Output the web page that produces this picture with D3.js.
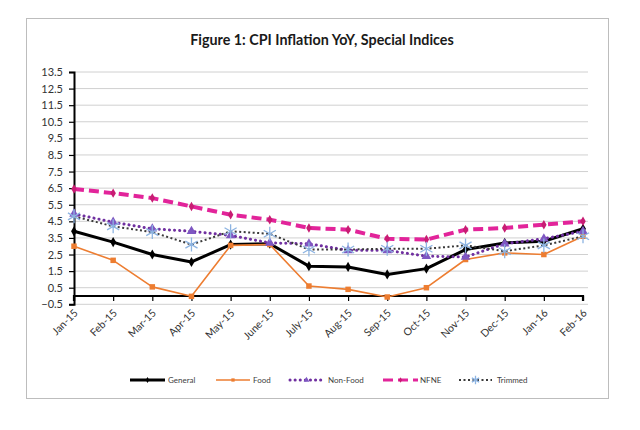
<!DOCTYPE html>
<html><head><meta charset="utf-8">
<script src="https://cdn.jsdelivr.net/npm/d3@7"></script>
<style>body{margin:0;background:#fff;} svg{display:block;}</style>
</head><body>
<svg id="c" width="640" height="430"></svg>
<script>
const categories = ["Jan-15","Feb-15","Mar-15","Apr-15","May-15","June-15","July-15","Aug-15","Sep-15","Oct-15","Nov-15","Dec-15","Jan-16","Feb-16"];
const general  = [3.9, 3.25, 2.5, 2.05, 3.1, 3.15, 1.8, 1.75, 1.3, 1.65, 2.8, 3.2, 3.3, 4.05];
const food     = [3.0, 2.15, 0.55, -0.02, 3.05, 3.1, 0.6, 0.4, -0.06, 0.5, 2.2, 2.6, 2.5, 3.6];
const nonFood  = [4.95, 4.45, 4.05, 3.9, 3.65, 3.2, 3.15, 2.75, 2.75, 2.4, 2.35, 3.15, 3.45, 3.9];
const nfne     = [6.45, 6.2, 5.9, 5.4, 4.9, 4.6, 4.1, 4.0, 3.45, 3.4, 4.0, 4.1, 4.3, 4.5];
const trimmed  = [4.8, 4.2, 3.85, 3.1, 3.9, 3.75, 2.8, 2.8, 2.85, 2.85, 3.05, 2.7, 3.05, 3.6];
const yTickValues = [-0.5,0.5,1.5,2.5,3.5,4.5,5.5,6.5,7.5,8.5,9.5,10.5,11.5,12.5,13.5];
const title = "Figure 1: CPI Inflation YoY, Special Indices";
const seriesNames = ["General","Food","Non-Food","NFNE","Trimmed"];

const svg = d3.select("#c");
const font = "Lato, 'Open Sans', sans-serif";

// outer frame
svg.append("rect").attr("x",26.5).attr("y",18.5).attr("width",582).attr("height",380)
  .attr("fill","#fff").attr("stroke","#bdbdbd").attr("stroke-width",1);

svg.append("text").attr("x",322).attr("y",45).attr("text-anchor","middle")
  .attr("font-family",font).attr("font-weight","bold").attr("font-size",14.3)
  .attr("fill","#1a1a1a").text(title);

const x = d3.scalePoint().domain(categories).range([74, 583]);
const y = d3.scaleLinear().domain([-0.5, 13.5]).range([304.3, 72]);

// gridlines
svg.append("g").selectAll("line").data(yTickValues).join("line")
  .attr("x1",74).attr("x2",588).attr("y1",d=>y(d)).attr("y2",d=>y(d))
  .attr("stroke","#d0d0d0").attr("stroke-width",1);

// y axis
const ya = svg.append("g").attr("transform","translate(74,0)")
  .call(d3.axisLeft(y).tickValues(yTickValues).tickSize(5).tickPadding(6).tickFormat(d3.format(".1f")));
ya.select(".domain").attr("stroke","#000").attr("stroke-width",2);
ya.selectAll(".tick line").attr("stroke","#000").attr("stroke-width",1.2);
ya.selectAll("text").attr("font-family",font).attr("font-size",11).attr("fill","#333");

// x axis at zero
const xa = svg.append("g").attr("transform",`translate(0,${y(0)})`)
  .call(d3.axisBottom(x).tickSize(5).tickFormat(""));
xa.select(".domain").attr("stroke","#000").attr("stroke-width",2.2).attr("d",`M74,5V0H583V5`);
xa.selectAll(".tick line").attr("stroke","#000").attr("stroke-width",1.2);

// x labels
svg.append("g").selectAll("text").data(categories).join("text")
  .attr("transform",d=>`translate(${x(d)+2},${311}) rotate(-45)`)
  .attr("text-anchor","end").attr("dy","0.35em")
  .attr("font-family",font).attr("font-size",10.5).attr("fill","#333").text(d=>d);

const line = d3.line().x((d,i)=>x(categories[i])).y(d=>y(d));

function asterisk(r){
  let p="";
  for(let k=0;k<3;k++){const a=Math.PI/2+k*Math.PI/3;const dx=r*Math.cos(a),dy=r*Math.sin(a);
    p+=`M${-dx},${-dy}L${dx},${dy}`;}
  return p;
}

const series = [
  {name:"General", data:general, color:"#000", width:3, dash:null, cap:"butt",
   marker:{type:d3.symbolDiamond,size:30,fill:"#000"}},
  {name:"Food", data:food, color:"#ED7D31", width:1.6, dash:null, cap:"butt",
   marker:{type:d3.symbolSquare,size:30,fill:"#ED7D31"}},
  {name:"Non-Food", data:nonFood, color:"#7030A0", width:3, dash:"0.1 5", cap:"round",
   marker:{type:d3.symbolTriangle,size:40,fill:"#7E57C2"}},
  {name:"NFNE", data:nfne, color:"#E2249A", width:4, dash:"10 5", cap:"butt",
   marker:{type:d3.symbolDiamond,size:26,fill:"#C81D73"}},
  {name:"Trimmed", data:trimmed, color:"#3a3a3a", width:2, dash:"2 2.5", cap:"butt",
   marker:{ast:true,stroke:"#8DB4E2"}}
];

function drawMarker(g, s, cx, cy, scale=1){
  const m = s.marker;
  if(m.ast){
    g.append("path").attr("transform",`translate(${cx},${cy})`).attr("d",asterisk(7*scale))
      .attr("stroke",m.stroke).attr("stroke-width",1.3).attr("fill","none");
  } else {
    g.append("path").attr("transform",`translate(${cx},${cy})`)
      .attr("d",d3.symbol().type(m.type).size(m.size*scale*scale)()).attr("fill",m.fill);
  }
}

series.forEach(s=>{
  const g = svg.append("g");
  g.append("path").attr("d",line(s.data)).attr("fill","none").attr("stroke",s.color)
    .attr("stroke-width",s.width).attr("stroke-dasharray",s.dash).attr("stroke-linecap",s.cap)
    .attr("stroke-linejoin","round");
  s.data.forEach((v,i)=>drawMarker(g,s,x(categories[i]),y(v)));
});

// legend
const legendPos = [[130,165,168],[216,250,253],[290,323,328],[383,418,420],[459,492,497]];
series.forEach((s,i)=>{
  const [a,b,t] = legendPos[i];
  const g = svg.append("g");
  const ly = 380;
  g.append("line").attr("x1",a).attr("x2",b).attr("y1",ly).attr("y2",ly)
    .attr("stroke",s.color).attr("stroke-width",Math.min(s.width,3)).attr("stroke-dasharray",s.dash)
    .attr("stroke-linecap",s.cap);
  drawMarker(g,s,(a+b)/2,ly,0.6);
  g.append("text").attr("x",t).attr("y",ly).attr("dy","0.35em").attr("font-family",font)
    .attr("font-size",8).attr("fill","#404040").text(seriesNames[i]);
});
</script>
</body></html>
